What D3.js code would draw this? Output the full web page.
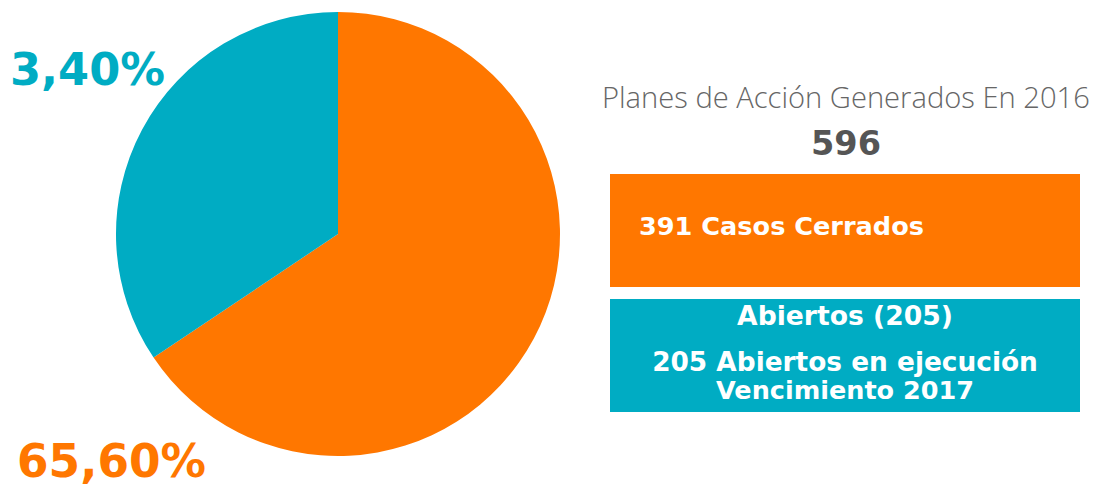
<!DOCTYPE html>
<html lang="es">
<head>
<meta charset="utf-8">
<title>Planes de Acción 2016</title>
<script src="https://d3js.org/d3.v7.min.js"></script>
<style>
  body { margin: 0; background: #fff; }
  text { font-family: "Open Sans", "DejaVu Sans", sans-serif; }
  text.bold { font-family: "DejaVu Sans", sans-serif; font-weight: 700; }
</style>
</head>
<body>
<div id="chart"></div>
<script>
// data
const categories = ["Cerrados", "Abiertos"];
const values = [391, 205];
const pctLabels = ["65,60%", "3,40%"];   // as printed in the original
const colors = ["#FF7700", "#00ACC3"];
const title = "Planes de Acción Generados En 2016";
const total = "596";
const boxLines = [
  ["391 Casos Cerrados"],
  ["Abiertos (205)", "205 Abiertos en ejecución", "Vencimiento 2017"]
];

const width = 1096, height = 487;
const svg = d3.select("#chart").append("svg")
  .attr("width", width)
  .attr("height", height);

// pie
const cx = 338, cy = 234, r = 222;
const pie = d3.pie().sort(null).value(d => d);
const arc = d3.arc().innerRadius(0).outerRadius(r);

svg.append("g")
  .attr("transform", "translate(" + cx + "," + cy + ")")
  .selectAll("path")
  .data(pie(values))
  .join("path")
  .attr("d", arc)
  .attr("fill", (d, i) => colors[i]);

// fit a text element to a target width by adjusting font size
function fit(sel, w) {
  const node = sel.node();
  const fs = parseFloat(sel.attr("font-size"));
  const cur = node.getComputedTextLength();
  sel.attr("font-size", (fs * w / cur).toFixed(2));
}

// percentage labels
const pctPos = [{x: 17, y: 477, w: 189}, {x: 10, y: 85, w: 155}];
pctLabels.forEach((t, i) => {
  const el = svg.append("text")
    .attr("class", "bold")
    .attr("x", pctPos[i].x).attr("y", pctPos[i].y)
    .attr("font-size", 46)
    .attr("fill", colors[i])
    .text(t);
  fit(el, pctPos[i].w);
});

// title block
const tEl = svg.append("text")
  .attr("x", 602).attr("y", 108)
  .attr("font-size", 25).attr("font-weight", 300)
  .attr("fill", "#666")
  .text(title);
fit(tEl, 488);

const nEl = svg.append("text")
  .attr("class", "bold")
  .attr("x", 846).attr("y", 155)
  .attr("text-anchor", "middle")
  .attr("font-size", 30)
  .attr("fill", "#555")
  .text(total);
fit(nEl, 70);

// boxes
const boxX = 610, boxW = 470;
const boxY = [174, 299], boxH = 113;
categories.forEach((c, i) => {
  svg.append("rect")
    .attr("x", boxX).attr("y", boxY[i])
    .attr("width", boxW).attr("height", boxH)
    .attr("fill", colors[i]);
});

// box texts
const l0 = svg.append("text")
  .attr("class", "bold")
  .attr("x", 639).attr("y", 235)
  .attr("font-size", 26)
  .attr("fill", "#fff")
  .text(boxLines[0][0]);
fit(l0, 285);

const openY = [325, 371, 399];
const openW = [216, 386, 258];
boxLines[1].forEach((t, j) => {
  const el = svg.append("text")
    .attr("class", "bold")
    .attr("x", 845).attr("y", openY[j])
    .attr("text-anchor", "middle")
    .attr("font-size", 26)
    .attr("fill", "#fff")
    .text(t);
  fit(el, openW[j]);
});
</script>
</body>
</html>
